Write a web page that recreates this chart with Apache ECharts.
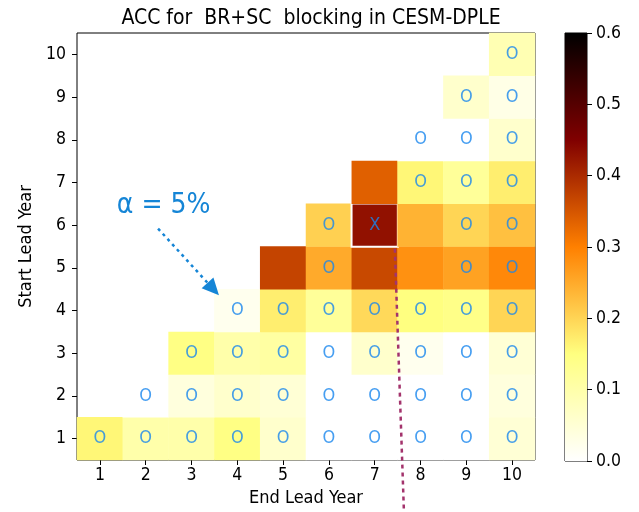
<!DOCTYPE html>
<html>
<head>
<meta charset="utf-8">
<script src="https://cdn.jsdelivr.net/npm/echarts@6/dist/echarts.min.js"></script>
<style>
  html, body { margin: 0; padding: 0; background: #fff; }
  #chart { width: 639px; height: 512px; }
</style>
</head>
<body>
<div id="chart"></div>
<script>
// Lead-year axes (end year on x, start year on y)
const endYears = ['1', '2', '3', '4', '5', '6', '7', '8', '9', '10'];
const startYears = ['1', '2', '3', '4', '5', '6', '7', '8', '9', '10'];

// ACC per start lead year, indexed by end lead year (null where end < start)
const accStart1  = [0.16, 0.10, 0.10, 0.145, 0.06, 0.00, 0.00, 0.00, 0.00, 0.05];
const accStart2  = [null, 0.00, 0.04, 0.06, 0.05, 0.00, 0.00, 0.00, 0.00, 0.04];
const accStart3  = [null, null, 0.145, 0.10, 0.11, 0.00, 0.06, 0.02, 0.00, 0.05];
const accStart4  = [null, null, null, 0.02, 0.17, 0.12, 0.195, 0.15, 0.14, 0.20];
const accStart5  = [null, null, null, null, 0.37, 0.25, 0.365, 0.28, 0.26, 0.29];
const accStart6  = [null, null, null, null, null, 0.205, 0.43, 0.24, 0.20, 0.225];
const accStart7  = [null, null, null, null, null, null, 0.337, 0.16, 0.12, 0.17];
const accStart8  = [null, null, null, null, null, null, null, 0.00, 0.00, 0.06];
const accStart9  = [null, null, null, null, null, null, null, null, 0.06, 0.03];
const accStart10 = [null, null, null, null, null, null, null, null, null, 0.09];
const accRows = [accStart1, accStart2, accStart3, accStart4, accStart5,
                 accStart6, accStart7, accStart8, accStart9, accStart10];

// Significance marks per start lead year: 'O' not significant at 5%, 'X' significant
const sigStart1  = ['O', 'O', 'O', 'O', 'O', 'O', 'O', 'O', 'O', 'O'];
const sigStart2  = ['', 'O', 'O', 'O', 'O', 'O', 'O', 'O', 'O', 'O'];
const sigStart3  = ['', '', 'O', 'O', 'O', 'O', 'O', 'O', 'O', 'O'];
const sigStart4  = ['', '', '', 'O', 'O', 'O', 'O', 'O', 'O', 'O'];
const sigStart5  = ['', '', '', '', '', 'O', '', '', 'O', 'O'];
const sigStart6  = ['', '', '', '', '', 'O', 'X', '', 'O', 'O'];
const sigStart7  = ['', '', '', '', '', '', '', 'O', 'O', 'O'];
const sigStart8  = ['', '', '', '', '', '', '', 'O', 'O', 'O'];
const sigStart9  = ['', '', '', '', '', '', '', '', 'O', 'O'];
const sigStart10 = ['', '', '', '', '', '', '', '', '', 'O'];
const sigRows = [sigStart1, sigStart2, sigStart3, sigStart4, sigStart5,
                 sigStart6, sigStart7, sigStart8, sigStart9, sigStart10];

// Colour scale limits and colorbar ticks
const accMin = 0.0;
const accMax = 0.6;
const colorbarTicks = [0.0, 0.1, 0.2, 0.3, 0.4, 0.5, 0.6];

// afmhot reversed: white -> yellow -> orange -> dark red -> black
const afmhotR = ['#ffffff', '#ffff80', '#ff8000', '#800000', '#000000'];

const FONT = 'DejaVu Sans Condensed, DejaVu Sans';
const MARK_BLUE = '#1886ee';
const NOTE_BLUE = '#1585d6';

// Main plot area geometry (pixels)
const G = { left: 77, top: 33, width: 458, height: 428 };
// Colorbar geometry
const CB = { left: 565, top: 33, width: 22, height: 428 };

// Build heatmap and marker data from the rows
const heatData = [];
const markData = [];
accRows.forEach((row, s) => {
  row.forEach((v, e) => {
    if (v === null) return;
    const mark = sigRows[s][e];
    const item = { value: [e, s, v] };
    if (mark === 'X') {
      item.itemStyle = { borderColor: '#ffffff', borderWidth: 2 };
    }
    heatData.push(item);
    if (mark) markData.push({ value: [e, s], mark: mark });
  });
});

// Cell units -> pixels (cell centre of end year k is at k, start year k at k)
function px(endPos, startPos) {
  const cw = G.width / endYears.length;
  const ch = G.height / startYears.length;
  return [G.left + (endPos - 0.5) * cw, G.top + G.height - (startPos - 0.5) * ch];
}

const chart = echarts.init(document.getElementById('chart'), null, { renderer: 'canvas' });

// Annotation geometry in cell units
const arrowFrom = px(2.27, 5.93);
const arrowTo = px(3.60, 4.37);
const lineTop = px(7.44, 5.46);
const lineBottom = px(7.64, -0.74);
const alphaPos = px(1.37, 6.47);

function arrowHead(from, to, len, half) {
  const dx = to[0] - from[0], dy = to[1] - from[1];
  const L = Math.sqrt(dx * dx + dy * dy);
  const ux = dx / L, uy = dy / L;
  const bx = to[0] - ux * len, by = to[1] - uy * len;
  return [[to[0], to[1]], [bx - uy * half, by + ux * half], [bx + uy * half, by - ux * half]];
}
const head = arrowHead(arrowFrom, arrowTo, 17, 8);
const shaftEnd = [arrowTo[0] - (arrowTo[0] - arrowFrom[0]) * 0.14, arrowTo[1] - (arrowTo[1] - arrowFrom[1]) * 0.14];

const option = {
  backgroundColor: '#ffffff',
  animation: false,
  textStyle: { fontFamily: FONT },
  title: {
    text: 'ACC for  BR+SC  blocking in CESM-DPLE',
    left: 306, top: 3, textAlign: 'center',
    textStyle: { fontFamily: FONT, fontSize: 21, fontWeight: 'normal', color: '#000' }
  },
  grid: [
    { left: G.left, top: G.top, width: G.width, height: G.height,
      show: true, borderColor: '#000', borderWidth: 1, backgroundColor: '#fff' },
    { left: CB.left, top: CB.top, width: CB.width, height: CB.height,
      show: true, borderColor: '#000', borderWidth: 1 }
  ],
  xAxis: [
    {
      gridIndex: 0, type: 'category', data: endYears,
      name: 'End Lead Year', nameLocation: 'middle', nameGap: 29,
      nameTextStyle: { fontFamily: FONT, fontSize: 18, color: '#000' },
      axisLine: { show: false },
      axisTick: { show: true, alignWithLabel: true, length: 5, lineStyle: { color: '#000' } },
      axisLabel: { fontFamily: FONT, fontSize: 17.5, color: '#000', margin: 6 },
      splitLine: { show: false }
    },
    { gridIndex: 1, type: 'category', data: ['cb'], show: false }
  ],
  yAxis: [
    {
      gridIndex: 0, type: 'category', data: startYears,
      name: 'Start Lead Year', nameLocation: 'middle', nameGap: 33,
      nameTextStyle: { fontFamily: FONT, fontSize: 18, color: '#000' },
      axisLine: { show: false },
      axisTick: { show: true, alignWithLabel: true, length: 5, lineStyle: { color: '#000' } },
      axisLabel: { fontFamily: FONT, fontSize: 17.5, color: '#000', margin: 11 },
      splitLine: { show: false }
    },
    {
      gridIndex: 1, type: 'value', position: 'right',
      min: accMin, max: accMax, interval: 0.1,
      axisLine: { show: false },
      axisTick: { show: true, length: 5, lineStyle: { color: '#000' } },
      axisLabel: { fontFamily: FONT, fontSize: 17.5, color: '#000', margin: 9,
        formatter: v => colorbarTicks.some(t => Math.abs(t - v) < 1e-9) ? v.toFixed(1) : '' },
      splitLine: { show: false }
    }
  ],
  visualMap: {
    show: false, type: 'continuous', seriesIndex: 0,
    min: accMin, max: accMax, dimension: 2,
    inRange: { color: afmhotR },
    outOfRange: { color: '#ffffff' }
  },
  series: [
    {
      type: 'heatmap', xAxisIndex: 0, yAxisIndex: 0,
      data: heatData,
      itemStyle: { borderWidth: 0 },
      emphasis: { disabled: true },
      z: 2
    },
    {
      type: 'scatter', xAxisIndex: 0, yAxisIndex: 0,
      data: markData,
      symbolSize: 0,
      label: {
        show: true, position: 'inside',
        formatter: p => p.data.mark,
        fontFamily: FONT, fontSize: 18, color: MARK_BLUE
      },
      emphasis: { disabled: true },
      z: 5
    },
    {
      type: 'bar', xAxisIndex: 1, yAxisIndex: 1,
      data: [accMax], barWidth: '100%',
      itemStyle: {
        color: new echarts.graphic.LinearGradient(0, 1, 0, 0,
          afmhotR.map((c, i) => ({ offset: i / (afmhotR.length - 1), color: c })))
      },
      emphasis: { disabled: true },
      silent: true
    }
  ],
  graphic: [
    {
      type: 'text', z: 10,
      style: { x: alphaPos[0], y: alphaPos[1], text: 'α = 5%', fontFamily: FONT,
        fontSize: 28, fill: NOTE_BLUE, align: 'left', verticalAlign: 'middle' }
    },
    {
      type: 'line', z: 10,
      shape: { x1: arrowFrom[0], y1: arrowFrom[1], x2: shaftEnd[0], y2: shaftEnd[1] },
      style: { stroke: NOTE_BLUE, lineWidth: 2.5, lineDash: [3, 4] }
    },
    {
      type: 'polygon', z: 10,
      shape: { points: head },
      style: { fill: NOTE_BLUE }
    },
    {
      type: 'line', z: 10,
      shape: { x1: lineTop[0], y1: lineTop[1], x2: lineBottom[0], y2: lineBottom[1] },
      style: { stroke: '#a3336c', lineWidth: 2.5, lineDash: [4, 4] }
    }
  ]
};

chart.setOption(option);
</script>
</body>
</html>
